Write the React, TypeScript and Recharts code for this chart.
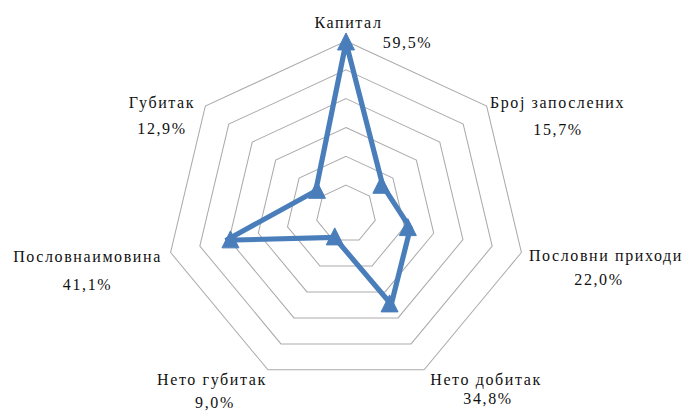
import { PolarAngleAxis, PolarGrid, PolarRadiusAxis, Radar, RadarChart } from "recharts";

const categories = [
  "Капитал",
  "Број запослених",
  "Пословни приходи",
  "Нето добитак",
  "Нето губитак",
  "Пословнаимовина",
  "Губитак",
];
const shares = [59.5, 15.7, 22.0, 34.8, 9.0, 41.1, 12.9];
const radiusTicks = [0, 10, 20, 30, 40, 50, 60];

const shareLabels = shares.map((v) => `${v.toFixed(1).replace(".", ",")}%`);

// label placement around each spoke: [nameDx, nameDy, valueDx, valueDy]
const labelOffsets = [
  [2.5, -4.7, 61.5, 15.3],
  [70, 7, 70.5, 34],
  [83.5, 6.7, 76.5, 30.7],
  [61.5, 8, 63.5, 27],
  [-55.5, 8, -52.5, 31],
  [-82, 7.4, -82, 35.7],
  [-42.5, 7, -42.5, 33],
];

const chartData = categories.map((name, i) => ({ name, value: shares[i] }));

const BLUE = "#4a7ebb";
const CX = 346;
const CY = 214;
const FONT = "Liberation Serif";

const AngleTick = (props: any) => {
  const { x, y, payload } = props;
  const i = categories.indexOf(payload.value);
  const o = labelOffsets[i] ?? [0, 0, 0, 0];
  const common = {
    textAnchor: "middle" as const,
    fontFamily: FONT,
    fontSize: 16,
    letterSpacing: 1.6,
    fill: "#111",
  };
  return (
    <g>
      <text x={x + o[0]} y={y + o[1]} {...common}>
        {payload.value}
      </text>
      <text x={x + o[2]} y={y + o[3]} {...common}>
        {shareLabels[i]}
      </text>
    </g>
  );
};

const TriangleDot = (props: any) => {
  const { cx, cy, index } = props;
  return (
    <path
      key={`tri-${index}`}
      d={`M${cx},${cy - 9.5} L${cx + 8.5},${cy + 7.5} L${cx - 8.5},${cy + 7.5} Z`}
      fill={BLUE}
      stroke={BLUE}
      strokeWidth={1}
    />
  );
};

export default function App() {
  return (
    <div style={{ position: "absolute", left: 0, top: 0, width: 683, height: 412, background: "#fff" }}>
      <style>{`
        .stretch-x .recharts-polar-grid,
        .stretch-x .recharts-radar {
          transform-origin: ${CX}px ${CY}px;
          transform: scale(1.04, 1);
        }
      `}</style>
      <RadarChart
        className="stretch-x"
        width={683}
        height={412}
        cx={CX}
        cy={CY}
        outerRadius={173}
        data={chartData}
        margin={{ top: 0, right: 0, bottom: 0, left: 0 }}
      >
        <PolarGrid gridType="polygon" radialLines={false} stroke="#ababab" strokeWidth={1} />
        <PolarAngleAxis dataKey="name" tick={<AngleTick />} tickLine={false} axisLine={false} />
        <PolarRadiusAxis
          domain={[0, 60]}
          ticks={radiusTicks}
          tickCount={7}
          tick={false}
          axisLine={false}
        />
        <Radar
          dataKey="value"
          stroke={BLUE}
          strokeWidth={5}
          fill="none"
          fillOpacity={0}
          dot={<TriangleDot />}
          isAnimationActive={false}
        />
      </RadarChart>
    </div>
  );
}
